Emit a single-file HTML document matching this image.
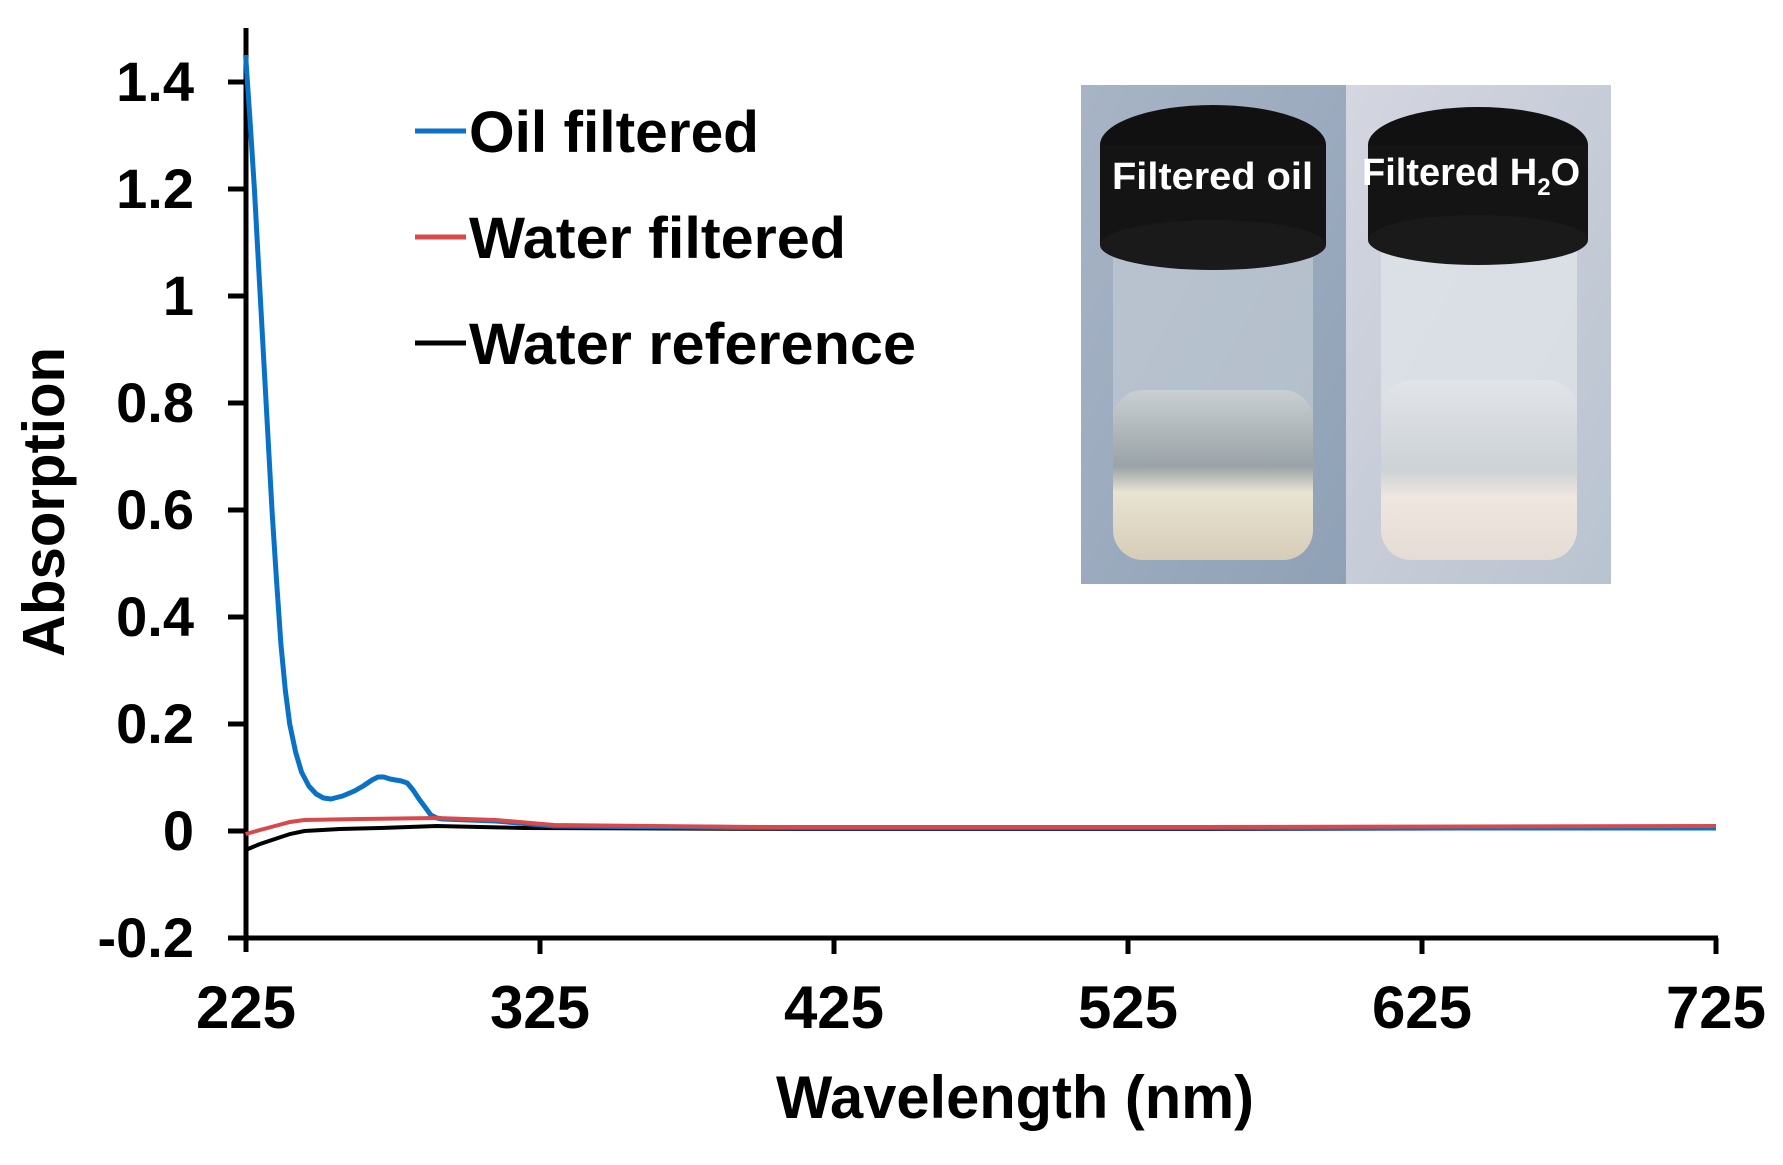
<!DOCTYPE html>
<html><head><meta charset="utf-8"><style>
html,body{margin:0;padding:0;background:#fff;}
body{width:1783px;height:1165px;overflow:hidden;position:relative;font-family:"Liberation Sans",Arial,sans-serif;}
</style></head><body>
<svg width="1783" height="1165" viewBox="0 0 1783 1165" xmlns="http://www.w3.org/2000/svg" style="position:absolute;left:0;top:0">
<defs>
<linearGradient id="bg1" x1="0" y1="0" x2="1" y2="1"><stop offset="0" stop-color="#a8b4c6"/><stop offset="1" stop-color="#8fa1b6"/></linearGradient>
<linearGradient id="bg2" x1="0" y1="0" x2="1" y2="1"><stop offset="0" stop-color="#d4d6e0"/><stop offset="1" stop-color="#b9c3d0"/></linearGradient>
<linearGradient id="liq" x1="0" y1="0" x2="0" y2="1"><stop offset="0" stop-color="#c9cfd2"/><stop offset="0.45" stop-color="#9aa3a8"/><stop offset="0.6" stop-color="#e8e3d2"/><stop offset="1" stop-color="#d6cdb8"/></linearGradient>
<linearGradient id="liq2" x1="0" y1="0" x2="0" y2="1"><stop offset="0" stop-color="#e1e4e8"/><stop offset="0.5" stop-color="#cdd2d6"/><stop offset="0.65" stop-color="#efe6e0"/><stop offset="1" stop-color="#e6dcd6"/></linearGradient>
</defs>
<!-- photo -->
<rect x="1081" y="85" width="266" height="499" fill="url(#bg1)"/>
<rect x="1346" y="85" width="265" height="499" fill="url(#bg2)"/>
<rect x="1113" y="195" width="200" height="360" rx="30" fill="#c2cad4" opacity="0.7"/>
<rect x="1113" y="390" width="200" height="170" rx="30" fill="url(#liq)"/>
<ellipse cx="1213" cy="145" rx="113" ry="40" fill="#111"/>
<rect x="1100" y="145" width="226" height="100" fill="#141414"/>
<ellipse cx="1213" cy="245" rx="113" ry="25" fill="#1a1a1a"/>
<rect x="1381" y="200" width="196" height="355" rx="30" fill="#dfe3e8" opacity="0.8"/>
<rect x="1381" y="380" width="196" height="180" rx="30" fill="url(#liq2)"/>
<ellipse cx="1478" cy="145" rx="110" ry="38" fill="#111"/>
<rect x="1368" y="145" width="220" height="95" fill="#141414"/>
<ellipse cx="1478" cy="240" rx="110" ry="25" fill="#1a1a1a"/>
<text x="1112" y="189" font-size="38" font-weight="bold" fill="#fff" textLength="201" lengthAdjust="spacingAndGlyphs">Filtered oil</text>
<text x="1362" y="185" font-size="38" font-weight="bold" fill="#fff">Filtered H<tspan font-size="24" dy="10">2</tspan><tspan dy="-10">O</tspan></text>

<!-- axes -->
<g stroke="#000" stroke-width="5" fill="none">
<line x1="246" y1="28" x2="246" y2="952"/>
<line x1="228" y1="938" x2="1718" y2="938"/>
<line x1="228" y1="82" x2="246" y2="82"/>
<line x1="228" y1="189" x2="246" y2="189"/>
<line x1="228" y1="296" x2="246" y2="296"/>
<line x1="228" y1="403" x2="246" y2="403"/>
<line x1="228" y1="510" x2="246" y2="510"/>
<line x1="228" y1="617" x2="246" y2="617"/>
<line x1="228" y1="724" x2="246" y2="724"/>
<line x1="228" y1="831" x2="246" y2="831"/>
<line x1="540" y1="938" x2="540" y2="954"/>
<line x1="834" y1="938" x2="834" y2="954"/>
<line x1="1128" y1="938" x2="1128" y2="954"/>
<line x1="1422" y1="938" x2="1422" y2="954"/>
<line x1="1716" y1="938" x2="1716" y2="954"/>
</g>
<g font-size="56" font-weight="bold" text-anchor="end" fill="#000">
<text x="194" y="101">1.4</text>
<text x="194" y="208">1.2</text>
<text x="194" y="315">1</text>
<text x="194" y="422">0.8</text>
<text x="194" y="529">0.6</text>
<text x="194" y="636">0.4</text>
<text x="194" y="743">0.2</text>
<text x="194" y="850">0</text>
<text x="194" y="957">-0.2</text>
</g>
<g font-size="60" font-weight="bold" text-anchor="middle" fill="#000">
<text x="246" y="1028">225</text>
<text x="540" y="1028">325</text>
<text x="834" y="1028">425</text>
<text x="1128" y="1028">525</text>
<text x="1422" y="1028">625</text>
<text x="1716" y="1028">725</text>
</g>
<text x="1015" y="1118" font-size="60" font-weight="bold" text-anchor="middle" textLength="478" lengthAdjust="spacingAndGlyphs">Wavelength (nm)</text>
<text transform="translate(64,502) rotate(-90)" font-size="59" font-weight="bold" text-anchor="middle" textLength="310" lengthAdjust="spacingAndGlyphs">Absorption</text>

<!-- series -->
<polyline fill="none" stroke="#000" stroke-width="4" points="245.6,850 260,844 275,839 290,834 304.4,831 340,829 380,828 436.7,826 480,827 525,828 800,829 1200,829 1716,828"/>
<polyline fill="none" stroke="#0a72c6" stroke-width="5" stroke-linejoin="round" points="245.6,55 250,120 254.4,189 258.8,270 263.2,350 267.6,430 272,510 276.5,580 280.9,644 285.3,690 289.7,724 295.6,752 301.5,772 308.8,786 316.2,794 323.5,798 330.9,799 342.6,796 354.4,791 363.2,786 372,780 378,777 383.8,777 390,779 395.5,780 401.4,781 407.3,783 413,790 419,799 425,807 430.8,815 436.7,818 442.6,819 495.5,821 554,826 800,828 1716,828"/>
<polyline fill="none" stroke="#d9484a" stroke-width="4" points="245.6,834 260,830 275,826 290,822 304.4,820 360,819 436.7,818 495.5,820 554,825 650,826 760,827 1200,827 1716,826"/>

<!-- legend -->
<line x1="415" y1="131" x2="466" y2="131" stroke="#0a72c6" stroke-width="5"/>
<line x1="415" y1="237" x2="466" y2="237" stroke="#d9484a" stroke-width="5"/>
<line x1="415" y1="343" x2="466" y2="343" stroke="#000" stroke-width="5"/>
<g font-size="58" font-weight="bold" fill="#000">
<text x="469" y="152" textLength="290" lengthAdjust="spacingAndGlyphs">Oil filtered</text>
<text x="469" y="258" textLength="377" lengthAdjust="spacingAndGlyphs">Water filtered</text>
<text x="469" y="364" textLength="447" lengthAdjust="spacingAndGlyphs">Water reference</text>
</g>
</svg>
</body></html>
